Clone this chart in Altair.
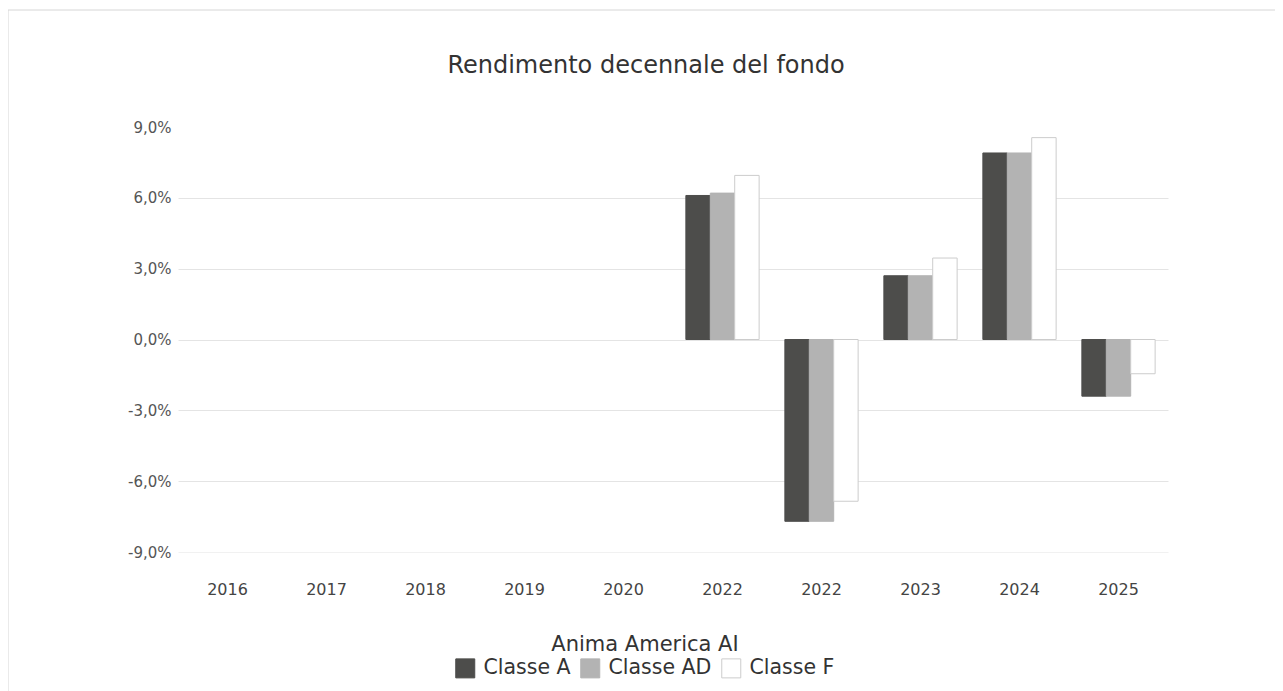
import altair as alt
import pandas as pd

year_labels = ["2016", "2017", "2018", "2019", "2020", "2022", "2022", "2023", "2024", "2025"]
series_names = ["Classe A", "Classe AD", "Classe F"]
# values in percent, one list per series, per category index (None = no bar)
classe_a = [None, None, None, None, None, 6.1, -7.7, 2.7, 7.9, -2.4]
classe_ad = [None, None, None, None, None, 6.2, -7.7, 2.7, 7.9, -2.4]
classe_f = [None, None, None, None, None, 6.95, -6.85, 3.45, 8.55, -1.45]
y_ticks = [-9, -6, -3, 0, 3, 6, 9]
colors = ["#4d4d4b", "#b3b3b3", "#ffffff"]
strokes = ["#4d4d4b", "#b3b3b3", "#cccccc"]

FONT = "DejaVu Sans"

rows = []
for name, vals in zip(series_names, [classe_a, classe_ad, classe_f]):
    for i, v in enumerate(vals):
        if v is not None:
            rows.append({"cat": i, "series": name, "value": v})
df = pd.DataFrame(rows)

label_array = "[" + ",".join("'" + l + "'" for l in year_labels) + "]"

bars = alt.Chart(df).mark_bar(strokeWidth=1).encode(
    x=alt.X("cat:O",
            scale=alt.Scale(domain=list(range(len(year_labels))), paddingInner=0.26, paddingOuter=0.13),
            axis=alt.Axis(title=None, labelExpr=label_array + "[datum.value]", labelAngle=0,
                          domain=False, ticks=False, labelPadding=29, labelFontSize=16,
                          labelColor="#444444", labelFont=FONT, grid=False)),
    xOffset=alt.XOffset("series:N", scale=alt.Scale(domain=series_names)),
    y=alt.Y("value:Q",
            scale=alt.Scale(domain=[-9, 9], nice=False),
            axis=alt.Axis(title=None, values=y_ticks,
                          labelExpr="replace(replace(format(datum.value, '.1f'), '.', ','), '\u2212', '-') + '%'",
                          domain=False, ticks=False, labelPadding=7, labelFontSize=15,
                          labelColor="#555555", labelFont=FONT,
                          gridColor={"condition": {"test": "datum.value == -9", "value": "#f1f1f1"},
                                     "value": "#e4e4e4"},
                          gridOpacity={"condition": {"test": "datum.value == 9", "value": 0},
                                       "value": 1},
                          gridWidth=1)),
    fill=alt.Fill("series:N", scale=alt.Scale(domain=series_names, range=colors),
                  legend=alt.Legend(title="Anima America AI", orient="none", direction="horizontal",
                                    legendX=277, legendY=507, titleLimit=500, labelLimit=300,
                                    titleAnchor="middle", titleOrient="top", titleFontSize=21,
                                    titleFontWeight="normal", titleColor="#333333",
                                    titleFont=FONT, labelFont=FONT, titlePadding=3,
                                    labelFontSize=20.5, labelColor="#333333",
                                    symbolType="square", symbolSize=361, symbolStrokeWidth=1,
                                    columnPadding=7, labelOffset=8)),
    stroke=alt.Stroke("series:N", scale=alt.Scale(domain=series_names, range=strokes),
                      legend=alt.Legend(title="Anima America AI")),
)

frame_h = alt.Chart(pd.DataFrame({"k": [0]})).mark_rule(color="#d6d6d6", strokeWidth=1).encode(
    x=alt.value(-170), x2=alt.value(1100), y=alt.value(-117))
frame_v = alt.Chart(pd.DataFrame({"k": [0]})).mark_rule(color="#d6d6d6", strokeWidth=1).encode(
    x=alt.value(-170), y=alt.value(-117), y2=alt.value(600))

chart = alt.layer(bars, frame_h, frame_v).properties(
    width=990, height=425,
    padding={"left": 170, "top": 119, "right": 107, "bottom": 139},
    autosize=alt.AutoSizeParams(type="none"),
    title=alt.TitleParams("Rendimento decennale del fondo", fontSize=24, font=FONT,
                          fontWeight="normal", color="#333333", offset=-68, anchor="middle",
                          frame="group", dx=-27),
).configure_view(stroke=None)

chart.save("out.html", embed_options={"renderer": "svg", "actions": False})
